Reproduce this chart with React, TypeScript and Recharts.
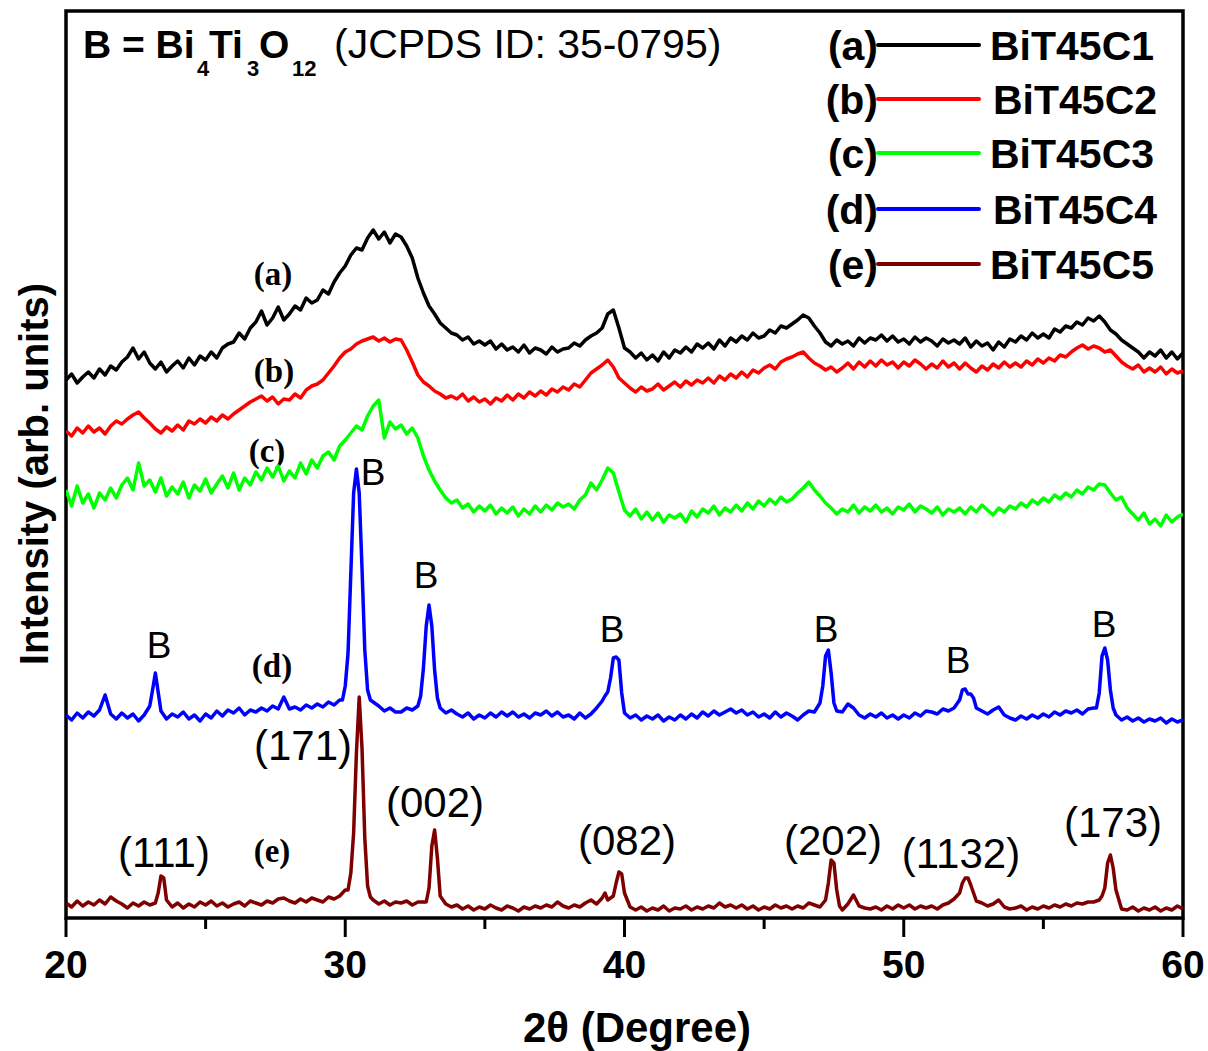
import React from 'react';
import { LineChart, Line, XAxis, YAxis, ReferenceArea, Customized } from 'recharts';

// 2θ sampling grid: 20.0 → 60.0 in 0.2° steps (201 points)
const START_2THETA = 20;
const STEP_2THETA = 0.2;
const X_TICKS = [20, 25, 30, 35, 40, 45, 50, 55, 60];
const X_LABELS = [20, 30, 40, 50, 60];

const SERIES_NAMES = ['BiT45C1', 'BiT45C2', 'BiT45C3', 'BiT45C4', 'BiT45C5'];
const SERIES_TAGS = ['(a)', '(b)', '(c)', '(d)', '(e)'];
const SERIES_COLORS = ['#000000', '#ff0000', '#00ff00', '#0000ff', '#7f0000'];

// Intensity (arb. units), stacked offsets included
const intensityA = [
  538, 544, 535, 541, 546, 540, 549, 543, 552, 548,
  556, 561, 570, 559, 566, 555, 549, 556, 546, 552,
  557, 550, 560, 553, 562, 558, 566, 560, 570, 574,
  576, 585, 579, 590, 596, 607, 593, 600, 611, 598,
  604, 612, 608, 620, 615, 618, 628, 624, 636, 645,
  652, 663, 670, 668, 680, 688, 679, 686, 675, 684,
  681, 672, 660, 640, 625, 612, 604, 595, 590, 585,
  583, 578, 581, 574, 577, 573, 577, 569, 574, 568,
  571, 566, 573, 565, 570, 568, 564, 571, 566, 569,
  570, 575, 572, 578, 582, 585, 590, 604, 608, 590,
  570, 566, 560, 565, 558, 563, 557, 566, 560, 568,
  565, 571, 566, 574, 570, 575, 569, 578, 572, 580,
  576, 582, 578, 585, 580, 582, 588, 585, 592, 590,
  594, 598, 603, 600, 592, 585, 576, 572, 578, 574,
  577, 572, 580, 575, 580, 578, 583, 577, 582, 576,
  579, 574, 581, 576, 580, 577, 572, 579, 575, 578,
  574, 580, 571, 577, 572, 575, 568, 576, 571, 579,
  576, 582, 578, 585, 580, 584, 580, 589, 586, 592,
  590, 596, 593, 600, 597, 602, 596, 588, 584, 578,
  574, 570, 566, 560, 566, 562, 568, 560, 566, 559,
  565,
];

const intensityB = [
  487, 482, 490, 485, 492, 486, 490, 484, 492, 497,
  494, 499, 503, 506, 500, 495, 489, 485, 491, 487,
  493, 488, 497, 494, 499, 495, 501, 497, 503, 499,
  504, 508, 512, 516, 519, 522, 517, 521, 514, 519,
  518, 524, 520, 528, 532, 534, 538, 545, 552, 560,
  566, 569, 574, 577, 579, 581, 577, 580, 576, 579,
  578, 568, 556, 543, 536, 532, 527, 524, 520, 522,
  519, 524, 517, 521, 516, 519, 514, 520, 517, 523,
  518, 524, 520, 526, 522, 527, 523, 529, 526, 531,
  528, 534, 531, 538, 545, 549, 553, 558, 551, 540,
  535, 530, 526, 531, 527, 529, 534, 528, 532, 536,
  531, 537, 533, 538, 535, 540, 535, 542, 538, 544,
  540, 546, 541, 548, 545, 550, 553, 549, 556, 559,
  561, 564, 566, 560, 555, 552, 548, 551, 546, 550,
  555, 549, 556, 551, 557, 552, 558, 553, 556, 550,
  556, 552, 558, 554, 549, 554, 550, 557, 551, 555,
  549, 555, 550, 546, 552, 548, 554, 550, 556, 551,
  555, 551, 557, 553, 559, 555, 560, 557, 563, 561,
  566, 570, 573, 569, 572, 570, 566, 568, 562, 556,
  552, 549, 553, 546, 550, 546, 551, 544, 549, 545,
  547,
];

const intensityC = [
  428, 412, 432, 415, 424, 410, 425, 418, 430, 420,
  433, 440, 428, 455, 432, 438, 426, 440, 422, 431,
  424, 436, 420, 433, 427, 439, 425, 434, 442, 430,
  445, 428, 440, 433, 446, 438, 450, 441, 452, 437,
  447, 440, 455, 444, 458, 450, 462, 466, 458, 472,
  478, 485, 492, 488, 502, 512, 518, 480, 496, 489,
  493, 484, 490, 480, 462, 448, 437, 428, 420, 415,
  418, 410, 414, 406, 412, 407, 413, 404, 410, 405,
  411, 402, 409, 404, 412, 406, 413, 408, 415, 411,
  414, 409, 418, 423, 435, 428, 438, 450, 445, 426,
  408, 402, 409, 399, 406, 398, 405, 396, 403, 400,
  404, 396, 407, 401, 409, 405, 412, 403, 410, 406,
  413, 407, 415, 409, 417, 412, 419, 414, 421, 416,
  419, 425, 430, 436, 428, 422, 415, 410, 404, 409,
  406, 413, 405, 411, 407, 413, 406, 410, 404, 411,
  408, 414, 406, 412, 409, 405, 411, 403, 409, 406,
  410, 404, 411, 406, 413, 408, 403, 410, 406, 412,
  409, 415, 411, 418, 414, 420, 416, 423, 419, 425,
  421, 428, 424, 431, 428, 434, 433, 425, 418, 421,
  410, 404, 398, 405, 394, 399, 392, 403, 396, 401,
  404,
];

const intensityD = [
  203, 198, 205, 200, 206, 202, 208, 223, 204, 199,
  205, 200, 204, 197, 203, 212, 245, 207, 199, 204,
  201, 206, 199, 203, 197, 204, 200, 207, 202, 208,
  205, 210, 203, 208, 206, 210, 207, 212, 209, 221,
  209, 211, 208, 213, 210, 214, 211, 216, 213, 218,
  232, 345, 449, 350, 228, 216, 212, 207, 210, 206,
  206, 210, 208, 212, 250, 313, 248, 210, 205, 208,
  204, 201, 205, 199, 203, 200, 205, 201, 206, 202,
  206, 201, 204, 200, 205, 203, 207, 202, 206, 201,
  203, 199, 205, 200, 204, 210, 217, 226, 260, 258,
  205, 200, 203, 198, 202, 199, 203, 197, 201, 198,
  203, 199, 204, 200, 206, 202, 207, 203, 206, 209,
  205, 208, 203, 206, 201, 204, 200, 206, 201, 205,
  202, 198, 203, 207, 206, 215, 262, 245, 207, 206,
  214, 210, 203, 200, 204, 201, 205, 200, 203, 199,
  203, 200, 205, 202, 207, 206, 204, 209, 207, 210,
  218, 229, 224, 210, 207, 204, 208, 211, 203, 200,
  198, 202, 199, 203, 200, 204, 201, 206, 203, 207,
  205, 208, 204, 209, 210, 225, 270, 228, 203, 198,
  201, 197, 200, 196, 199, 197, 200, 195, 199, 196,
  198,
];
const peakXD = [23.1, 23.3, 29.9, 30.1, 30.3, 30.5, 30.7, 30.9, 32.7, 32.9, 33.1, 33.3, 39.3, 39.5, 39.7, 39.9, 47.1, 47.3, 47.5, 52.1, 52.3, 52.5, 56.9, 57.1, 57.3, 57.5];
const peakYD = [228, 226, 218, 265, 425, 425, 268, 218, 222, 292, 292, 220, 222, 240, 261, 225, 232, 268, 215, 228, 224, 220, 210, 262, 258, 210];

const intensityE = [
  15, 11, 17, 12, 16, 13, 18, 14, 21, 17,
  14, 10, 15, 12, 16, 13, 15, 42, 18, 11,
  15, 10, 14, 11, 16, 13, 17, 12, 15, 11,
  14, 16, 12, 17, 15, 13, 17, 15, 19, 20,
  17, 15, 19, 16, 20, 18, 16, 21, 19, 22,
  28, 45, 165, 170, 32, 18, 14, 17, 13, 16,
  15, 17, 13, 16, 16, 30, 88, 22, 14, 11,
  13, 9, 12, 8, 11, 9, 13, 10, 8, 12,
  10, 7, 11, 9, 12, 10, 13, 11, 16, 12,
  10, 13, 11, 15, 18, 14, 20, 18, 22, 46,
  25, 11, 8, 11, 7, 10, 8, 12, 7, 10,
  9, 12, 8, 11, 9, 12, 10, 15, 11, 13,
  10, 13, 9, 12, 8, 11, 9, 13, 10, 12,
  9, 12, 10, 15, 13, 11, 18, 58, 28, 8,
  14, 23, 12, 10, 9, 11, 8, 12, 9, 13,
  10, 13, 9, 12, 10, 12, 9, 13, 15, 19,
  25, 40, 33, 17, 15, 12, 14, 18, 11, 9,
  10, 12, 8, 11, 9, 12, 10, 13, 11, 14,
  12, 15, 14, 16, 16, 18, 30, 63, 28, 9,
  8, 11, 7, 10, 8, 11, 7, 10, 8, 12,
  9,
];
const peakXE = [23.3, 23.5, 30.1, 30.3, 30.5, 30.7, 30.9, 32.9, 33.1, 33.3, 39.3, 39.7, 39.9, 47.3, 47.5, 47.7, 52.1, 52.3, 52.5, 57.1, 57.3, 57.5];
const peakYE = [25, 40, 28, 85, 221, 80, 21, 16, 72, 60, 25, 35, 44, 35, 55, 12, 35, 40, 25, 22, 55, 50];

type Pt = { x: number; y: number };
function build(values: number[], extraX: number[] = [], extraY: number[] = []): Pt[] {
  const pts: Pt[] = values.map((v, i) => ({ x: Math.round((START_2THETA + i * STEP_2THETA) * 10) / 10, y: v }));
  extraX.forEach((x, i) => pts.push({ x, y: extraY[i] }));
  pts.sort((a, b) => a.x - b.x);
  return pts;
}

const seriesData: Pt[][] = [
  build(intensityA),
  build(intensityB),
  build(intensityC),
  build(intensityD, peakXD, peakYD),
  build(intensityE, peakXE, peakYE),
];

const W = 1200;
const H = 1043;
const MARGIN = { top: 3, right: 25, left: 58, bottom: 0 };
const XAXIS_H = 133;
const PLOT_BOTTOM = H - MARGIN.bottom - XAXIS_H;

const SANS = '"Liberation Sans", Arial, sans-serif';
const SERIF = '"Liberation Serif", "Times New Roman", serif';

const CURVE_LABELS = [
  { t: '(a)', x: 265, y: 277 },
  { t: '(b)', x: 266, y: 374 },
  { t: '(c)', x: 259, y: 454 },
  { t: '(d)', x: 264, y: 669 },
  { t: '(e)', x: 264, y: 854 },
];
const B_LABELS = [
  { t: 'B', x: 365, y: 477 },
  { t: 'B', x: 418, y: 580 },
  { t: 'B', x: 151, y: 650 },
  { t: 'B', x: 604, y: 634 },
  { t: 'B', x: 818, y: 634 },
  { t: 'B', x: 950, y: 665 },
  { t: 'B', x: 1096, y: 629 },
];
const HKL_LABELS = [
  { t: '(111)', x: 156, y: 859 },
  { t: '(171)', x: 295, y: 752 },
  { t: '(002)', x: 427, y: 809 },
  { t: '(082)', x: 619, y: 847 },
  { t: '(202)', x: 825, y: 847 },
  { t: '(1132)', x: 953, y: 860 },
  { t: '(173)', x: 1105, y: 829 },
];
const LEGEND_ROWS_Y = [37, 91, 145, 201, 256];

const XTick = (props: any) => {
  const { x, payload } = props;
  const v = payload.value;
  const major = X_LABELS.includes(v);
  return (
    <g>
      <line x1={x} x2={x} y1={PLOT_BOTTOM} y2={PLOT_BOTTOM + (major ? 19 : 11)} stroke="#000" strokeWidth={3} />
      {major && (
        <text x={x} y={PLOT_BOTTOM + 60} textAnchor="middle" fontFamily={SANS} fontWeight="bold" fontSize={39} fill="#000">
          {v}
        </text>
      )}
    </g>
  );
};

const Annotations = () => (
  <g>
    {/* header */}
    <text fontFamily={SANS} fill="#000">
      <tspan x={75} y={50} fontWeight="bold" fontSize={39}>B = Bi</tspan>
      <tspan x={189} y={68} fontWeight="bold" fontSize={22}>4</tspan>
      <tspan x={201} y={50} fontWeight="bold" fontSize={39}>Ti</tspan>
      <tspan x={239} y={68} fontWeight="bold" fontSize={22}>3</tspan>
      <tspan x={251} y={50} fontWeight="bold" fontSize={39}>O</tspan>
      <tspan x={284} y={68} fontWeight="bold" fontSize={22}>12</tspan>
      <tspan x={326} y={50} fontSize={41}>(JCPDS ID: 35-0795)</tspan>
    </text>
    {/* legend */}
    {SERIES_NAMES.map((name, i) => (
      <g key={name}>
        <text x={870} y={LEGEND_ROWS_Y[i] + 15} textAnchor="end" fontFamily={SANS} fontWeight="bold" fontSize={41} fill="#000">
          {SERIES_TAGS[i]}
        </text>
        <line x1={870} x2={971} y1={LEGEND_ROWS_Y[i]} y2={LEGEND_ROWS_Y[i]} stroke={SERIES_COLORS[i]} strokeWidth={4} strokeLinecap="round" />
        <text x={i % 2 === 1 ? 985 : 982} y={LEGEND_ROWS_Y[i] + 15} fontFamily={SANS} fontWeight="bold" fontSize={41} fill="#000">
          {name}
        </text>
      </g>
    ))}
    {/* curve tags */}
    {CURVE_LABELS.map((l) => (
      <text key={l.t} x={l.x} y={l.y} textAnchor="middle" fontFamily={SERIF} fontWeight="bold" fontSize={33} fill="#000">
        {l.t}
      </text>
    ))}
    {/* phase labels */}
    {B_LABELS.map((l, i) => (
      <text key={'b' + i} x={l.x} y={l.y} textAnchor="middle" fontFamily={SANS} fontSize={37} fill="#000">
        {l.t}
      </text>
    ))}
    {/* Miller indices */}
    {HKL_LABELS.map((l, i) => (
      <text key={'h' + i} x={l.x} y={l.y} textAnchor="middle" fontFamily={SANS} fontSize={42} fill="#000">
        {l.t}
      </text>
    ))}
    {/* axis titles */}
    <text x={629} y={1034} textAnchor="middle" fontFamily={SANS} fontWeight="bold" fontSize={42} fill="#000">
      2θ (Degree)
    </text>
    <text
      x={40}
      y={466}
      transform="rotate(-90 40 466)"
      textAnchor="middle"
      fontFamily={SANS}
      fontWeight="bold"
      fontSize={40}
      fill="#000"
    >
      Intensity (arb. units)
    </text>
  </g>
);

export default function App() {
  return (
    <div style={{ position: 'absolute', left: 8, top: 8, width: W, height: H }}>
      <LineChart width={W} height={H} margin={MARGIN}>
        <XAxis
          dataKey="x"
          type="number"
          domain={[20, 60]}
          ticks={X_TICKS}
          interval={0}
          allowDataOverflow
          height={XAXIS_H}
          axisLine={false}
          tickLine={false}
          tick={<XTick />}
        />
        <YAxis hide type="number" domain={[0, 907]} allowDataOverflow />
        {seriesData.map((d, i) => (
          <Line
            key={SERIES_NAMES[i]}
            data={d}
            dataKey="y"
            name={SERIES_NAMES[i]}
            type="linear"
            stroke={SERIES_COLORS[i]}
            strokeWidth={3.5}
            strokeLinejoin="round"
            dot={false}
            activeDot={false}
            isAnimationActive={false}
          />
        ))}
        <ReferenceArea x1={20} x2={60} y1={0} y2={907} fill="none" fillOpacity={0} stroke="#000" strokeWidth={3.5} ifOverflow="visible" />
        <Customized component={<Annotations />} />
      </LineChart>
    </div>
  );
}
